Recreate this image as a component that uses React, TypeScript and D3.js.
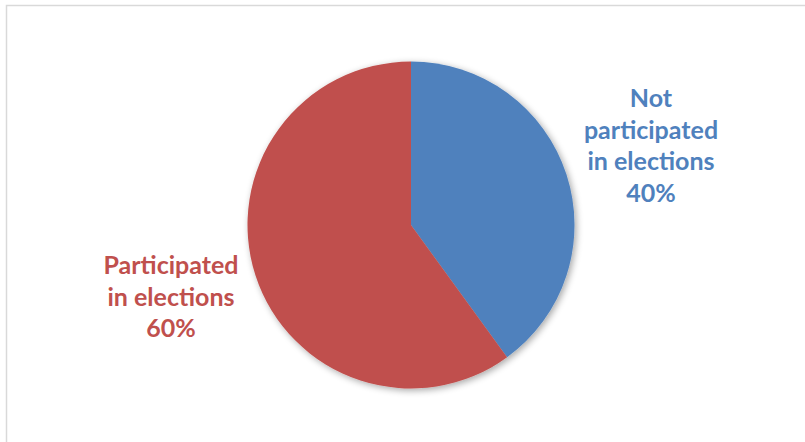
import React from "react";
import * as d3 from "d3";

const categories = ["Not participated in elections", "Participated in elections"];
const values = [40, 60];
const labelLines = [
  ["Not", "participated", "in elections", "40%"],
  ["Participated", "in elections", "60%"],
];
const colors = ["#4F81BD", "#C0504D"];

const W = 805;
const H = 442;
const cx = 411;
const cy = 225;
const R = 163.5;

export default function App() {
  const pie = d3.pie<number>().sort(null).value((d) => d)(values);
  const arc = d3.arc<d3.PieArcDatum<number>>().innerRadius(0).outerRadius(R);
  const labelPos = [
    { x: 651, y: 107 },
    { x: 171, y: 274 },
  ];
  const lh = 31.5;
  return (
    <svg
      width={W}
      height={H}
      style={{ position: "absolute", left: 0, top: 0, background: "#fff" }}
      fontFamily="Lato, 'Open Sans', sans-serif"
    >
      <defs>
        <filter id="sh" x="-20%" y="-20%" width="140%" height="140%">
          <feGaussianBlur in="SourceAlpha" stdDeviation="3.5" />
          <feOffset dx="1.5" dy="2" result="b" />
          <feComponentTransfer>
            <feFuncA type="linear" slope="0.35" />
          </feComponentTransfer>
          <feMerge>
            <feMergeNode />
            <feMergeNode in="SourceGraphic" />
          </feMerge>
        </filter>
      </defs>
      <rect x={0} y={0} width={W} height={H} fill="#fff" />
      <path d={`M6.5,${H + 2} V5.5 H${W + 2}`} fill="none" stroke="#d9d9d9" strokeWidth={1.5} />
      <g transform={`translate(${cx},${cy})`} filter="url(#sh)">
        {pie.map((p, i) => (
          <path key={categories[i]} d={arc(p) || ""} fill={colors[i]} />
        ))}
      </g>
      {labelLines.map((lines, i) => (
        <text
          key={categories[i]}
          textAnchor="middle"
          fill={colors[i]}
          fontWeight="bold"
          fontSize={25}
        >
          {lines.map((l, j) => (
            <tspan key={j} x={labelPos[i].x} y={labelPos[i].y + j * lh}>
              {l}
            </tspan>
          ))}
        </text>
      ))}
    </svg>
  );
}
